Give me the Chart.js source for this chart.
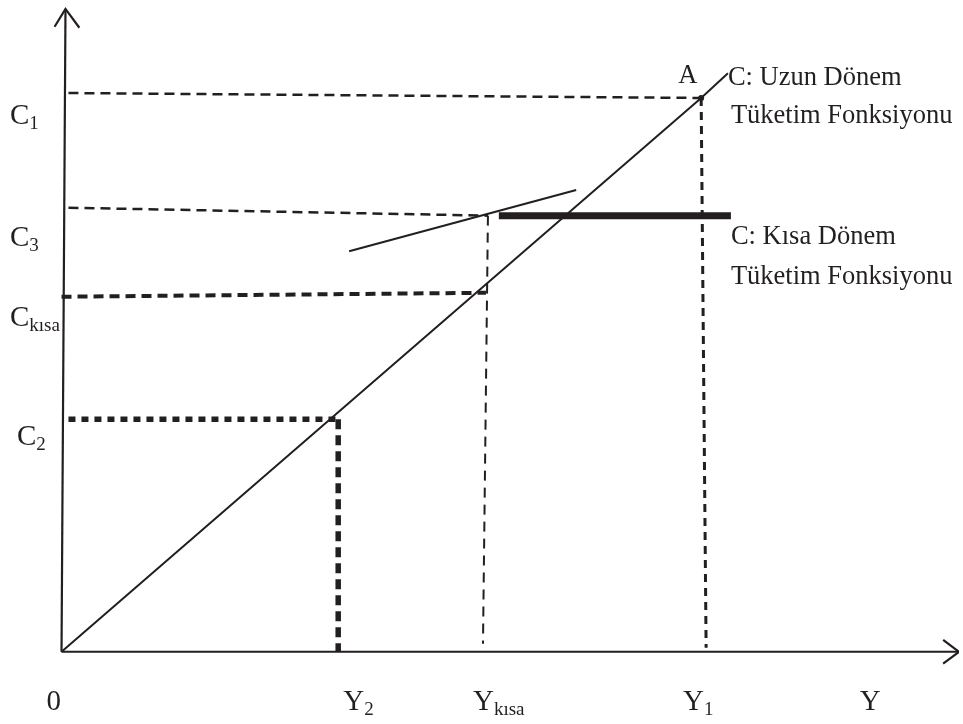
<!DOCTYPE html>
<html>
<head>
<meta charset="utf-8">
<script src="https://cdn.jsdelivr.net/npm/chart.js@4/dist/chart.umd.min.js"></script>
<style>
  html, body { margin: 0; padding: 0; background: #fff; }
  canvas { display: block; }
</style>
</head>
<body>
<canvas id="chart" width="963" height="724"></canvas>
<script>
// gelir düzeyleri (yatay eksen)
const incomeNames = ['Y', 'Y', 'Y'];
const incomeSubs = ['2', 'kısa', '1'];
const incomeTop = [279, 430, 645];    // eğriye değen uç
const incomeBottom = [279, 425, 650]; // eksene inen uç
const incomeEnd = [0, 8, 4];

// tüketim düzeyleri (dikey eksen)
const consNames = ['C', 'C', 'C', 'C'];
const consSubs = ['1', '3', 'kısa', '2'];
const consAxis = [565, 449, 359, 235];
const consCurve = [560, 441, 363, 235];
const consStart = [7, 7, 0, 7];

// fonksiyonlar
const longRunX = [0, 645, 672];
const longRunY = [0, 560, 585];
const shortRunX = [290, 519];
const shortRunY = [405, 467];
const kisaBarX = [441, 675];
const kisaBarY = [441, 441];

const ink = '#231f20';

// etiket yerleşimi (piksel kaydırma)
const consLabelX = [10, 10, 10, 17];
const consLabelDy = [31, 38, 29, 26];
const incomeLabelDx = [5, -10, -23];

function pts(xs, ys) {
  return xs.map((x, i) => ({ x, y: ys[i] }));
}

function seg(xs, ys, width, dash) {
  return {
    data: pts(xs, ys),
    showLine: true,
    borderColor: ink,
    borderWidth: width,
    borderDash: dash || [],
    borderCapStyle: 'butt',
    pointRadius: 0,
    fill: false,
    tension: 0
  };
}

// hangi C hangi Y ile eşleşiyor: C1-Y1, C3-Ykısa, Ckısa-Ykısa, C2-Y2
const consToIncome = [2, 1, 1, 0];
const hDash = [[10, 6], [10, 6], [10, 6], [7, 6]];
const hWidth = [2.5, 2.5, 4, 5.5];
const vDash = [[10, 6], [10, 7], [8, 6]];
const vWidth = [5.5, 2, 3];

const datasets = [];

// eksenler
datasets.push(seg([0, 4], [0, 650], 2.2));
datasets.push(seg([-7, 4, 18], [632, 650, 631], 2.2));
datasets.push(seg([0, 905], [0, 0], 2.2));
datasets.push(seg([889, 905, 889], [12, 0, -12], 2.2));

// yatay kesikli çizgiler
consAxis.forEach((c, i) => {
  const yi = consToIncome[i];
  const xEnd = i === 2 ? incomeTop[1] - 2 : incomeTop[yi];
  datasets.push(seg([consStart[i], xEnd], [c, consCurve[i]], hWidth[i], hDash[i]));
});

// dikey kesikli çizgiler
const incomeTopC = [consCurve[3], consCurve[1], consCurve[0]];
incomeTop.forEach((x, i) => {
  datasets.push(seg([x, incomeBottom[i]], [incomeTopC[i], incomeEnd[i]], vWidth[i], vDash[i]));
});

// uzun ve kısa dönem tüketim fonksiyonları
datasets.push(seg(longRunX, longRunY, 2));
datasets.push(seg(shortRunX, shortRunY, 2));
datasets.push(seg(kisaBarX, kisaBarY, 7));

// A noktası
datasets.push({
  data: [{ x: longRunX[1], y: longRunY[1] }],
  showLine: false,
  pointRadius: 3,
  pointBackgroundColor: ink,
  pointBorderWidth: 0
});

const notes = [
  { text: 'A', x: 622, y: 575 },
  { text: 'C: Uzun Dönem', x: 672, y: 573 },
  { text: 'Tüketim Fonksiyonu', x: 675, y: 535 },
  { text: 'C: Kısa Dönem', x: 675, y: 412 },
  { text: 'Tüketim Fonksiyonu', x: 675, y: 372 }
];

const labelPlugin = {
  id: 'labels',
  afterDraw(chart) {
    const { ctx } = chart;
    const xs = chart.scales.x, ys = chart.scales.y;
    ctx.save();
    ctx.fillStyle = ink;
    ctx.textBaseline = 'alphabetic';
    ctx.textAlign = 'left';

    function withSub(main, sub, x, y) {
      ctx.font = '29px "Liberation Serif"';
      ctx.fillText(main, x, y);
      const w = ctx.measureText(main).width;
      ctx.font = '19px "Liberation Serif"';
      ctx.fillText(sub, x + w, y + 5);
    }

    consNames.forEach((n, i) => {
      withSub(n, consSubs[i], consLabelX[i], ys.getPixelForValue(consAxis[i]) + consLabelDy[i]);
    });

    const base = ys.getPixelForValue(0) + 58;
    incomeNames.forEach((n, i) => {
      withSub(n, incomeSubs[i], xs.getPixelForValue(incomeBottom[i]) + incomeLabelDx[i], base);
    });

    ctx.font = '29px "Liberation Serif"';
    ctx.fillText('0', xs.getPixelForValue(0) - 15, base);
    ctx.fillText('Y', xs.getPixelForValue(805), base);

    ctx.font = '26.5px "Liberation Serif"';
    notes.forEach(n => {
      ctx.fillText(n.text, xs.getPixelForValue(n.x), ys.getPixelForValue(n.y));
    });
    ctx.restore();
  }
};

new Chart(document.getElementById('chart'), {
  type: 'scatter',
  data: { datasets },
  options: {
    responsive: false,
    animation: false,
    devicePixelRatio: 1,
    events: [],
    layout: { padding: 0 },
    plugins: { legend: { display: false }, tooltip: { enabled: false } },
    scales: {
      x: { type: 'linear', min: -58, max: 905, display: false },
      y: { type: 'linear', min: -69, max: 655, display: false }
    }
  },
  plugins: [labelPlugin]
});
</script>
</body>
</html>
